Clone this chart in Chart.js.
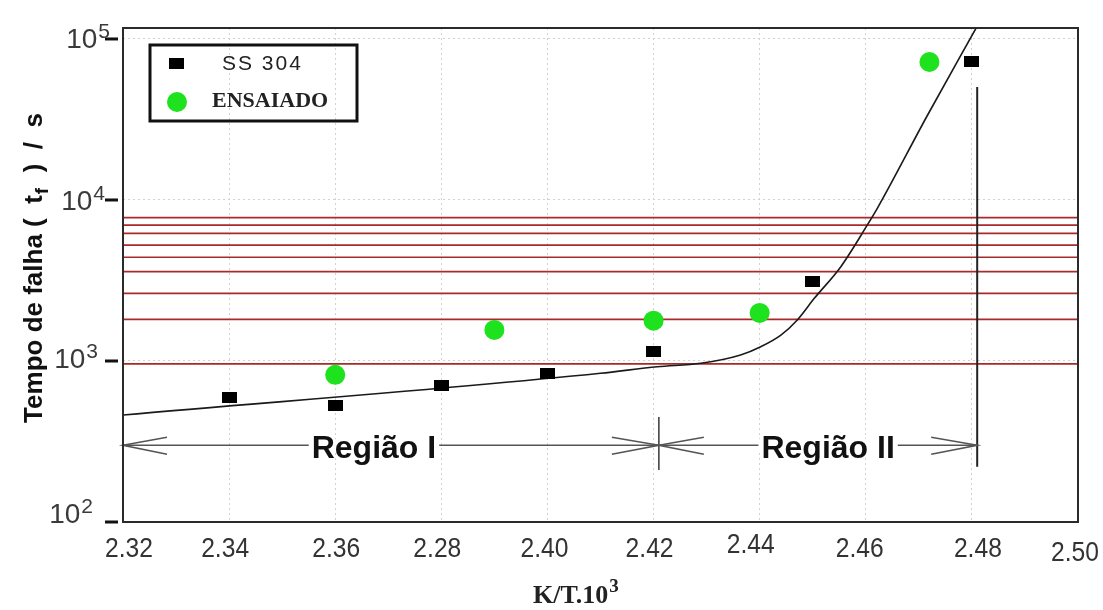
<!DOCTYPE html>
<html>
<head>
<meta charset="utf-8">
<script src="https://cdn.jsdelivr.net/npm/chart.js@4.4.0/dist/chart.umd.min.js"></script>
<style>
  html, body { margin: 0; padding: 0; background: #fff; }
</style>
</head>
<body>
<canvas id="myChart" width="1103" height="610"></canvas>
<script>
// axis ticks (the 4th label really reads 2.28 in the source figure)
const xTicks = [2.32, 2.34, 2.36, 2.38, 2.40, 2.42, 2.44, 2.46, 2.48, 2.50];
const xTickLabels = ['2.32', '2.34', '2.36', '2.28', '2.40', '2.42', '2.44', '2.46', '2.48', '2.50'];
const yTicks = [100, 1000, 10000, 100000];
const yTickExp = ['2', '3', '4', '5'];

// SS 304 (black squares)
const ssX = [2.34, 2.36, 2.38, 2.40, 2.42, 2.45, 2.48];
const ssY = [595, 530, 705, 835, 1140, 3100, 72000];

// ENSAIADO (green dots)
const ensX = [2.36, 2.39, 2.42, 2.44, 2.472];
const ensY = [820, 1560, 1780, 1990, 72000];

// fitted curve
const fitX = [2.32, 2.41, 2.4207, 2.4289, 2.4364, 2.4402, 2.444, 2.4471, 2.4503, 2.4553, 2.4603, 2.4622, 2.4715, 2.4808];
const fitY = [462, 839, 922, 968, 1090, 1227, 1449, 1799, 2449, 3854, 6998, 8900, 33000, 117000];

// red horizontal lines
const redLevels = [960, 1815, 2630, 3590, 4410, 5250, 6210, 6990, 7770];

// regions
const regionBounds = [2.32, 2.421, 2.481];
const regionNames = ['Região I', 'Região II'];
const regionLabelX = [2.3673, 2.4529];
const arrowLevel = 300;
const dividerLow = [210, 220];
const dividerHigh = [449, 50400];

const seriesNames = ['SS 304', 'ENSAIADO'];

// square marker, a bit wider than tall
const sq = document.createElement('canvas');
sq.width = 15; sq.height = 11;
sq.getContext('2d').fillRect(0, 0, 15, 11);

const GREEN = '#1ee21e';
const RED = '#a82a2a';

const toPts = (xs, ys) => xs.map((v, i) => ({x: v, y: ys[i]}));

const datasets = [
  {label: seriesNames[0], data: toPts(ssX, ssY), showLine: false, pointStyle: sq,
   pointRadius: 8, backgroundColor: '#000', borderColor: '#000', order: 0},
  {label: seriesNames[1], data: toPts(ensX, ensY), showLine: false, pointStyle: 'circle',
   pointRadius: 10, backgroundColor: GREEN, borderColor: GREEN, borderWidth: 0, order: 0},
  {label: 'fit', data: toPts(fitX, fitY), borderColor: '#1a1a1a', borderWidth: 1.6,
   pointRadius: 0, cubicInterpolationMode: 'monotone', order: 1},
  // arrow shafts
  {label: 'shaft', data: [{x: regionBounds[0], y: arrowLevel}, {x: regionBounds[2], y: arrowLevel}],
   borderColor: '#555', borderWidth: 1.6, pointRadius: 0, order: 3},
  // divider at 2.42 and end line at 2.48
  {label: 'div1', data: [{x: regionBounds[1], y: dividerLow[0]}, {x: regionBounds[1], y: dividerHigh[0]}],
   borderColor: '#444', borderWidth: 1.6, pointRadius: 0, order: 3},
  {label: 'div2', data: [{x: regionBounds[2], y: dividerLow[1]}, {x: regionBounds[2], y: dividerHigh[1]}],
   borderColor: '#222', borderWidth: 2, pointRadius: 0, order: 3}
];
redLevels.forEach(v => datasets.push({
  label: 'red', data: [{x: xTicks[0], y: v}, {x: xTicks[xTicks.length - 1], y: v}],
  borderColor: RED, borderWidth: 1.7, pointRadius: 0, order: 4
}));

const extras = {
  id: 'extras',
  afterDatasetsDraw(chart) {
    const ctx = chart.ctx;
    const a = chart.chartArea;
    const x = chart.scales.x, y = chart.scales.y;
    ctx.save();

    // arrow heads
    const ay = y.getPixelForValue(arrowLevel);
    const heads = [[regionBounds[0], 1, 44], [regionBounds[1], -1, 47], [regionBounds[1], 1, 45], [regionBounds[2], -1, 46]];
    ctx.strokeStyle = '#555';
    ctx.lineWidth = 1.6;
    heads.forEach(h => {
      const px = x.getPixelForValue(h[0]);
      ctx.beginPath();
      ctx.moveTo(px + h[1] * h[2], ay - 8);
      ctx.lineTo(px, ay);
      ctx.lineTo(px + h[1] * h[2], ay + 9);
      ctx.stroke();
    });

    // region labels
    ctx.font = 'bold 32px "Liberation Sans", Arial, sans-serif';
    ctx.textAlign = 'center';
    ctx.textBaseline = 'alphabetic';
    regionNames.forEach((name, i) => {
      const px = x.getPixelForValue(regionLabelX[i]);
      const w = ctx.measureText(name).width;
      ctx.fillStyle = '#fff';
      ctx.fillRect(px - w / 2 - 3, ay - 6, w + 6, 12);
      ctx.fillStyle = '#111';
      ctx.fillText(name, px, ay + 13);
    });

    // frame
    ctx.strokeStyle = '#2a2a2a';
    ctx.lineWidth = 2;
    ctx.strokeRect(a.left, a.top, a.right - a.left, a.bottom - a.top);

    // y tick dashes and labels
    yTicks.forEach((v, i) => {
      const py = y.getPixelForValue(v);
      ctx.fillStyle = '#111';
      ctx.fillRect(105, py - 1.5, 13, 3);
      const right = [93, 98, 105, 110][i];
      const dy = [1, 7, 10, 9][i];
      ctx.fillStyle = '#3a3a3a';
      ctx.textAlign = 'left';
      ctx.font = '21px "Liberation Sans", Arial, sans-serif';
      const ew = ctx.measureText(yTickExp[i]).width;
      ctx.font = '28px "Liberation Sans", Arial, sans-serif';
      const bw = ctx.measureText('10').width;
      const start = right - ew - bw - 1;
      ctx.fillText('10', start, py + dy);
      ctx.font = '21px "Liberation Sans", Arial, sans-serif';
      ctx.fillText(yTickExp[i], start + bw + 1, py + dy - 10);
    });

    // x tick labels
    const dxs = [6, -4, 1, -4, -3, -4, -9, -6, 6, -3];
    const dys = [0, 0, 0, 0, 0, 0, -4, 0, 0, 4];
    ctx.font = '28px "Liberation Sans", Arial, sans-serif';
    ctx.textAlign = 'center';
    ctx.fillStyle = '#333';
    xTicks.forEach((v, i) => {
      const px = x.getPixelForValue(v) + dxs[i];
      ctx.save();
      ctx.translate(px, 557 + dys[i]);
      ctx.scale(0.88, 1);
      ctx.fillText(xTickLabels[i], 0, 0);
      ctx.restore();
    });

    // x title
    ctx.fillStyle = '#222';
    ctx.textAlign = 'left';
    ctx.font = 'bold 26px "Liberation Serif", "Times New Roman", serif';
    ctx.fillText('K/T.10', 533, 603);
    const tw = ctx.measureText('K/T.10').width;
    ctx.font = 'bold 19px "Liberation Serif", "Times New Roman", serif';
    ctx.fillText('3', 533 + tw + 1, 592);

    // y title with subscript f
    ctx.save();
    ctx.translate(42, 268);
    ctx.rotate(-Math.PI / 2);
    ctx.fillStyle = '#111';
    const f1 = 'bold 26px "Liberation Sans", Arial, sans-serif';
    const f2 = 'bold 19px "Liberation Sans", Arial, sans-serif';
    const p1 = 'Tempo de falha (  t', p2 = 'f', p3 = '  )  /  s';
    ctx.font = f1;
    const w1 = ctx.measureText(p1).width, w3 = ctx.measureText(p3).width;
    ctx.font = f2;
    const w2 = ctx.measureText(p2).width;
    let sx = -(w1 + w2 + w3 + 2) / 2;
    ctx.font = f1; ctx.fillText(p1, sx, 0); sx += w1 + 1;
    ctx.font = f2; ctx.fillText(p2, sx, 6); sx += w2 + 1;
    ctx.font = f1; ctx.fillText(p3, sx, 0);
    ctx.restore();

    // legend box
    ctx.strokeStyle = '#111';
    ctx.lineWidth = 3;
    ctx.strokeRect(150, 45, 207, 76);
    ctx.drawImage(sq, 169, 58);
    ctx.fillStyle = GREEN;
    ctx.beginPath();
    ctx.arc(177, 102, 10, 0, Math.PI * 2);
    ctx.fill();
    ctx.fillStyle = '#222';
    ctx.textBaseline = 'middle';
    ctx.font = '21px "Liberation Sans", Arial, sans-serif';
    ctx.letterSpacing = '2px';
    ctx.fillText(seriesNames[0], 222, 64);
    ctx.letterSpacing = '0px';
    ctx.font = 'bold 22px "Liberation Serif", "Times New Roman", serif';
    ctx.fillText(seriesNames[1], 212, 101);

    ctx.restore();
  }
};

const ctx = document.getElementById('myChart');

new Chart(ctx, {
  type: 'line',
  data: {datasets: datasets},
  options: {
    responsive: false,
    animation: false,
    devicePixelRatio: 1,
    layout: {padding: {left: 123, top: 28, right: 25, bottom: 88}},
    plugins: {legend: {display: false}, tooltip: {enabled: false}},
    scales: {
      x: {
        type: 'linear', min: 2.32, max: 2.50,
        afterBuildTicks: s => { s.ticks = xTicks.map(v => ({value: v})); },
        afterFit: s => { s.height = 0; },
        ticks: {display: false},
        border: {display: false, dash: [2, 3]},
        grid: {drawTicks: false, color: '#d2d2d2', lineWidth: 1}
      },
      y: {
        type: 'logarithmic', min: 100, max: 117000,
        afterBuildTicks: s => { s.ticks = yTicks.map(v => ({value: v})); },
        afterFit: s => { s.width = 0; },
        ticks: {display: false},
        border: {display: false, dash: [2, 3]},
        grid: {drawTicks: false, color: '#d2d2d2', lineWidth: 1}
      }
    }
  },
  plugins: [extras]
});
</script>
</body>
</html>
